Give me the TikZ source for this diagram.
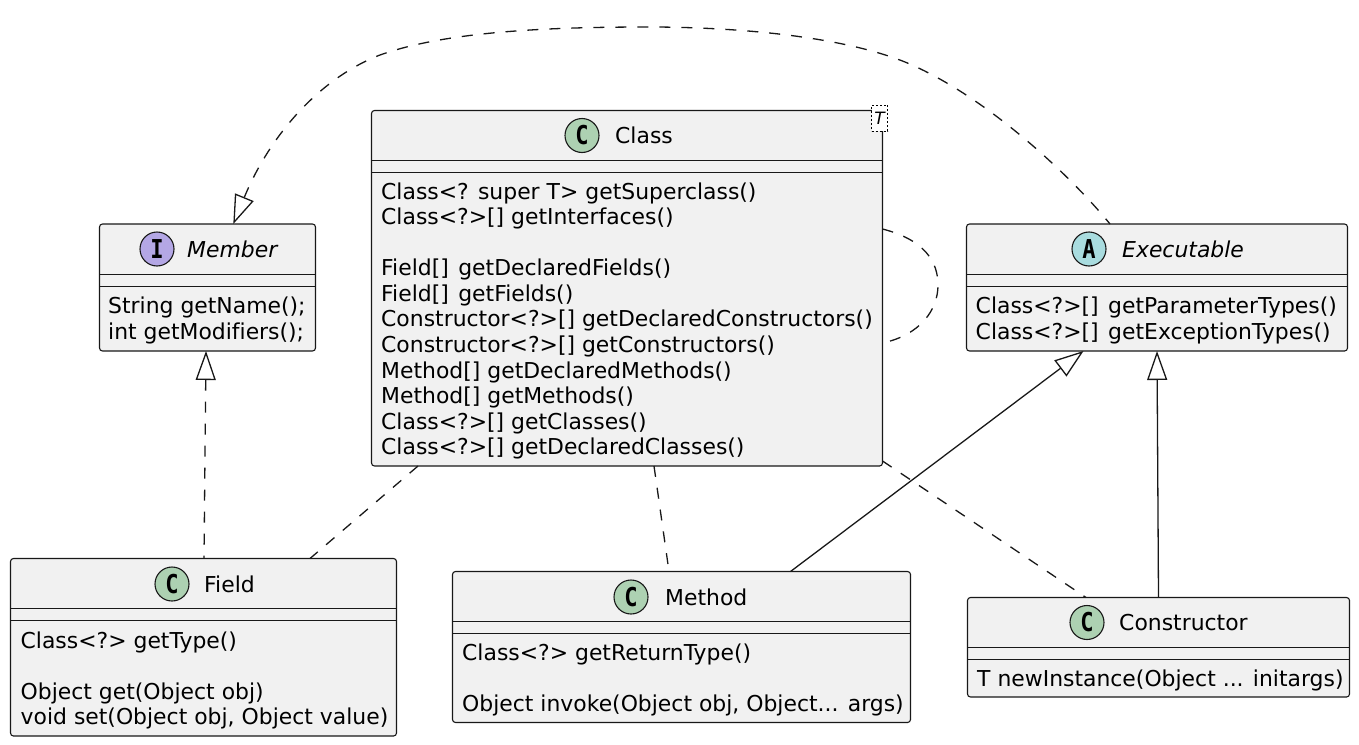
\documentclass[tikz,border=0pt]{standalone}
\usepackage{fontspec}
\setmainfont{DejaVu Sans}[Ligatures=NoCommon]
\newfontfamily\iconfont{DejaVu Sans Mono Bold}
\usetikzlibrary{arrows.meta,calc}
\definecolor{ink}{HTML}{181818}
\definecolor{boxfill}{HTML}{F1F1F1}
\definecolor{iconC}{HTML}{ADD1B2}
\definecolor{iconI}{HTML}{B4A7E5}
\definecolor{iconA}{HTML}{A9DCDF}
\newcommand{\Lft}{\rule{0pt}{20pt}}
\newcommand{\glyph}[1]{\scalebox{.85}[1]{#1}}
\tikzset{
  umlbox/.style={draw=ink,fill=boxfill,rounded corners=3pt,line width=1.1pt,inner sep=0pt,outer sep=0pt,anchor=north west},
  sep/.style={draw=ink,line width=1.1pt},
  icon/.style={circle,draw=ink,line width=1.1pt,minimum size=34pt,inner sep=0pt,outer sep=0pt,font=\iconfont\fontsize{26}{26}\selectfont,text=black},
  title/.style={anchor=base west,inner sep=0pt,font=\fontsize{21.9}{25}\selectfont,text=black},
  members/.style={anchor=north west,inner sep=0pt,align=left,font=\fontsize{21.9}{25.55}\selectfont,text=black},
  conn/.style={draw=ink,line width=1.3pt},
  dashconn/.style={conn,dash pattern=on 11pt off 11pt},
  hollow/.tip={Triangle[open,length=29pt,width=20pt,fill=white,line width=1.3pt,sep=0pt]},
}
\begin{document}
\begin{tikzpicture}[x=1pt,y=-1pt]
\useasboundingbox (0,0) rectangle (1359,744);
% boxes
\node[umlbox,minimum width=216pt,minimum height=127pt] (member) at (99.5,224) {};
\node[umlbox,minimum width=511pt,minimum height=355.5pt] (class) at (371.5,110.5) {};
\node[umlbox,minimum width=381pt,minimum height=127pt] (exec) at (966.5,224) {};
\node[umlbox,minimum width=386pt,minimum height=177.5pt] (field) at (10.5,558.5) {};
\node[umlbox,minimum width=458pt,minimum height=151pt] (method) at (452.5,571.5) {};
\node[umlbox,minimum width=382pt,minimum height=99.5pt] (ctor) at (967.5,597.5) {};
% separators
\foreach \n/\a/\b in {member/274.5/286.5,class/160.5/172.5,exec/274.5/286.5,field/608.5/620.5,method/621.5/633.5,ctor/647.5/659.5}{
  \draw[sep] (\n.west |- 0,\a) -- (\n.east |- 0,\a);
  \draw[sep] (\n.west |- 0,\b) -- (\n.east |- 0,\b);
}
% icons
\node[icon,fill=iconI] (iconm) at (157,249) {\glyph{I}};
\node[icon,fill=iconC] (iconc) at (582,135.5) {\glyph{C}};
\node[icon,fill=iconA] (icone) at (1089,249) {\glyph{A}};
\node[icon,fill=iconC] (iconf) at (172,584) {\glyph{C}};
\node[icon,fill=iconC] (iconh) at (631,597) {\glyph{C}};
\node[icon,fill=iconC] (iconk) at (1087,622.5) {\glyph{C}};
% titles
\node[title] (tm) at (187,257) {\itshape Member};
\node[title] (tc) at (615,143) {Class};
\node[title] (te) at (1122,257) {\itshape Executable};
\node[title] (tf) at (204,592) {Field};
\node[title] (th) at (665,605) {Method};
\node[title] (tk) at (1119,630) {Constructor};
% members
\node[members] (mm) at (108,293.5) {\Lft String getName();\\int getModifiers();};
\node[members] (mc) at (381,179) {\Lft Class<? super T> getSuperclass()\\Class<?>[] getInterfaces()\\[25.55pt]Field[]\kern2.5pt{} getDeclaredFields()\\Field[]\kern2.5pt{} getFields()\\Constructor<?>[] getDeclaredConstructors()\\Constructor<?>[] getConstructors()\\Method[] getDeclaredMethods()\\Method[] getMethods()\\Class<?>[] getClasses()\\Class<?>[] getDeclaredClasses()};
\node[members] (me) at (975.5,293.5) {\Lft Class<?>[]\kern2.5pt{} getParameterTypes()\\Class<?>[]\kern2.5pt{} getExceptionTypes()};
\node[members] (mf) at (20.5,628) {\Lft Class<?> getType()\\[25.55pt]Object get(Object obj)\\void set(Object obj, Object value)};
\node[members] (mh) at (462,640.5) {\Lft Class<?> getReturnType()\\[25.55pt]Object invoke(Object obj, Object... args)};
\node[members] (mk) at (977,666) {\Lft T newInstance(Object ... initargs)};
% template box
\node[draw=black,fill=white,dash pattern=on 2pt off 2pt,line width=1pt,inner sep=0pt,minimum width=16pt,minimum height=26pt,font=\itshape\fontsize{17}{17}\selectfont,text=black] (tpl) at (879.5,118) {T};
% connectors
\draw[dashconn,{hollow}-] ([xshift=133.8pt]member.north west) .. controls (270,135) and (320,78) .. (380,55) .. controls (450,30) and (560,27) .. (650,27) .. controls (710,27) and (830,32) .. (905,62) .. controls (985,95) and (1070,175) .. ([xshift=143.5pt]exec.north west);
\draw[dashconn,{hollow}-] ([xshift=-1.5pt]member.south) -- ([xshift=0.5pt]field.north);
\draw[conn,-{hollow}] ([xshift=-120pt]method.north east) -- ([xshift=-264pt]exec.south east);
\draw[conn,-{hollow}] (ctor.north) -- ([xshift=190.5pt]exec.south west);
\draw[dashconn] ([yshift=-118.5pt]class.north east) .. controls (925,240) and (938,262) .. (938,285) .. controls (938,310) and (920,335) .. ([yshift=-232.5pt]class.north east);
\draw[dashconn] ([xshift=46.5pt]class.south west) -- ([xshift=-86.5pt]field.north east);
\draw[dashconn] ([xshift=282.5pt]class.south west) -- ([xshift=216.5pt]method.north west);
\draw[dashconn] ([yshift=5pt]class.south east) -- ([xshift=118.5pt]ctor.north west);
\end{tikzpicture}
\end{document}
